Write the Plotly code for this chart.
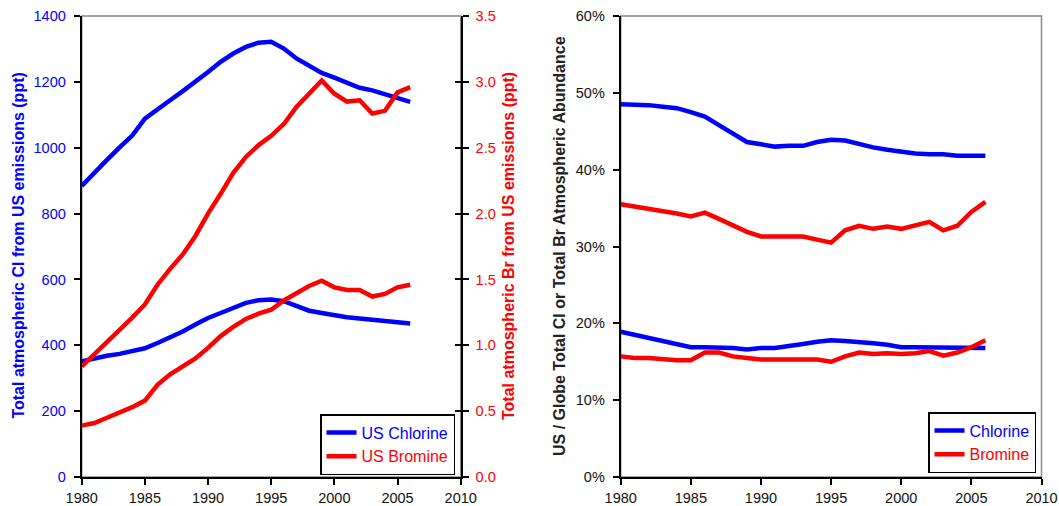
import plotly.graph_objects as go

years = list(range(1980, 2007))

# Left panel: total atmospheric Cl (ppt, left axis) and Br (ppt, right axis)
us_cl_total = [884, 925, 963, 1001, 1037, 1088, 1118, 1144, 1172, 1200, 1230, 1261, 1286, 1306,
               1319, 1322, 1301, 1271, 1247, 1227, 1213, 1197, 1182, 1174, 1162, 1149, 1139]
us_cl_other = [351, 361, 368, 374, 383, 391, 407, 424, 442, 463, 483, 498, 515, 529,
               537, 539, 534, 519, 505, 498, 491, 485, 481, 477, 471, 468, 466]
us_br_total = [0.84, 0.93, 1.02, 1.12, 1.21, 1.31, 1.46, 1.58, 1.69, 1.83, 2.00, 2.15, 2.31, 2.43,
               2.52, 2.59, 2.68, 2.81, 2.91, 3.01, 2.91, 2.85, 2.86, 2.76, 2.78, 2.92, 2.96]
us_br_other = [0.39, 0.41, 0.45, 0.49, 0.53, 0.58, 0.70, 0.78, 0.84, 0.90, 0.98, 1.07, 1.14, 1.20,
               1.24, 1.27, 1.34, 1.40, 1.45, 1.49, 1.44, 1.42, 1.42, 1.37, 1.39, 1.44, 1.46]

# Right panel: US / Globe ratio (%)
cl_ratio_a = [48.5, 48.5, 48.4, 48.2, 48.0, 47.5, 46.9, 45.8, 44.7, 43.6, 43.3, 43.0, 43.1, 43.1,
              43.6, 43.9, 43.8, 43.3, 42.9, 42.6, 42.3, 42.1, 42.0, 42.0, 41.8, 41.8, 41.8]
br_ratio_a = [35.5, 35.2, 35.0, 34.6, 34.3, 33.9, 34.4, 33.6, 32.8, 31.9, 31.3, 31.3, 31.3, 31.3,
              30.9, 30.5, 32.1, 32.7, 32.3, 32.6, 32.3, 32.7, 33.2, 32.1, 32.7, 34.5, 35.8]
cl_ratio_b = [18.9, 18.5, 18.0, 17.6, 17.3, 16.9, 16.9, 16.9, 16.8, 16.6, 16.8, 16.8, 17.0, 17.3,
              17.6, 17.8, 17.7, 17.6, 17.4, 17.2, 16.9, 16.9, 16.9, 16.9, 16.9, 16.9, 16.8]
br_ratio_b = [15.7, 15.5, 15.5, 15.3, 15.2, 15.2, 16.2, 16.2, 15.7, 15.5, 15.3, 15.3, 15.3, 15.3,
              15.3, 15.0, 15.7, 16.2, 16.0, 16.1, 16.0, 16.1, 16.4, 15.8, 16.2, 16.9, 17.8]

x_ticks = [1980, 1985, 1990, 1995, 2000, 2005, 2010]

BLUE = "#0000FF"
RED = "#FF0000"
FONT = "Liberation Sans, Arial, sans-serif"
W, H = 1059, 506
LW = 4.5
TICK_SIZE = 14.5
TITLE_SIZE = 16

fig = go.Figure()

# Left panel traces
fig.add_trace(go.Scatter(x=years, y=us_cl_total, mode="lines", line=dict(color=BLUE, width=LW),
                         name="<span style='color:#0000FF'>US Chlorine</span>", xaxis="x", yaxis="y",
                         legend="legend"))
fig.add_trace(go.Scatter(x=years, y=us_cl_other, mode="lines", line=dict(color=BLUE, width=LW),
                         showlegend=False, xaxis="x", yaxis="y"))
fig.add_trace(go.Scatter(x=years, y=us_br_total, mode="lines", line=dict(color=RED, width=LW),
                         name="<span style='color:#FF0000'>US Bromine</span>", xaxis="x", yaxis="y2",
                         legend="legend"))
fig.add_trace(go.Scatter(x=years, y=us_br_other, mode="lines", line=dict(color=RED, width=LW),
                         showlegend=False, xaxis="x", yaxis="y2"))
# helper (empty) trace for inner ticks on the right axis
fig.add_trace(go.Scatter(x=[], y=[], xaxis="x", yaxis="y4", showlegend=False, hoverinfo="skip"))

# Right panel traces
fig.add_trace(go.Scatter(x=years, y=cl_ratio_a, mode="lines", line=dict(color=BLUE, width=LW),
                         name="<span style='color:#0000FF'>Chlorine</span>", xaxis="x2", yaxis="y3",
                         legend="legend2"))
fig.add_trace(go.Scatter(x=years, y=cl_ratio_b, mode="lines", line=dict(color=BLUE, width=LW),
                         showlegend=False, xaxis="x2", yaxis="y3"))
fig.add_trace(go.Scatter(x=years, y=br_ratio_a, mode="lines", line=dict(color=RED, width=LW),
                         name="<span style='color:#FF0000'>Bromine</span>", xaxis="x2", yaxis="y3",
                         legend="legend2"))
fig.add_trace(go.Scatter(x=years, y=br_ratio_b, mode="lines", line=dict(color=RED, width=LW),
                         showlegend=False, xaxis="x2", yaxis="y3"))

L_dom_x = [81.7 / W, 460.7 / W]
L_dom_y = [(H - 477) / H, (H - 16) / H]
R_dom_x = [620.7 / W, 1041.5 / W]
R_dom_y = [(H - 477) / H, (H - 16) / H]

tickfont_black = dict(family=FONT, size=TICK_SIZE, color="#111111")

xcommon = dict(range=[1980, 2010], tickvals=x_ticks, ticks="outside", ticklen=6, tickwidth=2,
               tickcolor="black", showline=True, linecolor="black", linewidth=2, showgrid=False,
               zeroline=False, tickfont=tickfont_black, automargin=False, ticklabelstandoff=1)

fig.update_layout(
    width=W, height=H,
    margin=dict(l=0, r=0, t=0, b=0, autoexpand=False),
    paper_bgcolor="white", plot_bgcolor="white",
    font=dict(family=FONT),
    xaxis=dict(domain=L_dom_x, anchor="y", **xcommon),
    yaxis=dict(domain=L_dom_y, anchor="x", range=[0, 1400], dtick=200, ticks="outside", ticklen=6,
               tickwidth=2, tickcolor="black", showline=True, linecolor="black", linewidth=2,
               showgrid=False, zeroline=False, automargin=False, ticklabelstandoff=5,
               tickfont=dict(family=FONT, size=TICK_SIZE, color=BLUE)),
    yaxis2=dict(overlaying="y", side="right", anchor="x", range=[0, 3.5], dtick=0.5, tickformat=".1f",
                ticks="outside", ticklen=6, tickwidth=2, tickcolor="black", showline=True,
                linecolor="black", linewidth=2, showgrid=False, zeroline=False, automargin=False,
                ticklabelstandoff=4, tickfont=dict(family=FONT, size=TICK_SIZE, color=RED)),
    yaxis4=dict(overlaying="y", side="right", anchor="x", range=[0, 3.5], dtick=0.5,
                ticks="inside", ticklen=6, tickwidth=2, tickcolor="black", showline=False,
                showticklabels=False, showgrid=False, zeroline=False, automargin=False),
    xaxis2=dict(domain=R_dom_x, anchor="y3", **xcommon),
    yaxis3=dict(domain=R_dom_y, anchor="x2", range=[0, 60], dtick=10, ticksuffix="%",
                ticks="outside", ticklen=6, tickwidth=2, tickcolor="black", showline=True,
                linecolor="black", linewidth=2, showgrid=False, zeroline=False, automargin=False,
                ticklabelstandoff=5, tickfont=tickfont_black),
    legend=dict(x=320 / W, y=(H - 414) / H, xanchor="left", yanchor="top",
                bgcolor="white", bordercolor="black", borderwidth=1.5,
                font=dict(family=FONT, size=16, color=BLUE), itemwidth=30,
                tracegroupgap=0),
    legend2=dict(x=928 / W, y=(H - 412) / H, xanchor="left", yanchor="top",
                 bgcolor="white", bordercolor="black", borderwidth=1.5,
                 font=dict(family=FONT, size=16, color=BLUE), itemwidth=30,
                 tracegroupgap=0),
    shapes=[
        dict(type="rect", xref="x domain", yref="y domain", x0=0, x1=1, y0=0, y1=1,
             line=dict(color="#888888", width=1.5), layer="below"),
        dict(type="rect", xref="x2 domain", yref="y3 domain", x0=0, x1=1, y0=0, y1=1,
             line=dict(color="#888888", width=1.5), layer="below"),
    ],
    annotations=[
        dict(text="<b>Total atmospheric Cl from US emissions (ppt)</b>", xref="paper", yref="paper",
             x=18.6 / W, y=(H - 246) / H, textangle=-90, showarrow=False, xanchor="center",
             yanchor="middle", font=dict(family=FONT, size=TITLE_SIZE, color=BLUE)),
        dict(text="<b>Total atmospheric Br from US emissions (ppt)</b>", xref="paper", yref="paper",
             x=509 / W, y=(H - 246) / H, textangle=-90, showarrow=False, xanchor="center",
             yanchor="middle", font=dict(family=FONT, size=TITLE_SIZE, color=RED)),
        dict(text="<b>US / Globe Total Cl or Total Br Atmospheric Abundance</b>", xref="paper",
             yref="paper", x=560 / W, y=(H - 246) / H, textangle=-90, showarrow=False,
             xanchor="center", yanchor="middle",
             font=dict(family=FONT, size=TITLE_SIZE, color="#222222")),
    ],
)

fig.write_html("out.html")
